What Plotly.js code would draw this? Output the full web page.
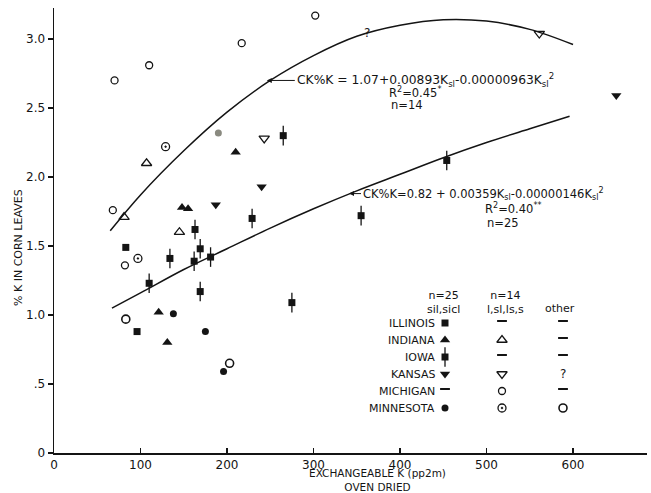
<!DOCTYPE html>
<html>
<head>
<meta charset="utf-8">
<script src="https://cdn.plot.ly/plotly-3.0.1.min.js"></script>
<style>html,body{margin:0;padding:0;background:#fff;}#chart{width:651px;height:493px;}</style>
</head>
<body>
<div id="chart"></div>
<script>
// ---- data (exchangeable K, % K in corn leaves) ----
const illinoisX = [83, 96];
const illinoisY = [1.49, 0.88];
const indianaX = [210, 148, 155, 121, 131];
const indianaY = [2.18, 1.78, 1.77, 1.02, 0.80];
const indianaLightX = [107, 81, 145];
const indianaLightY = [2.10, 1.71, 1.60];
const iowaX = [265, 229, 163, 134, 169, 162, 181, 110, 169, 275, 454, 355];
const iowaY = [2.30, 1.70, 1.62, 1.41, 1.48, 1.39, 1.42, 1.23, 1.17, 1.09, 2.12, 1.72];
const kansasX = [240, 187, 650];
const kansasY = [1.93, 1.80, 2.59];
const kansasLightX = [243, 561];
const kansasLightY = [2.28, 3.04];
const kansasOtherX = [362];
const kansasOtherY = [3.04];
const michiganLightX = [70, 110, 217, 302, 68, 82];
const michiganLightY = [2.70, 2.81, 2.97, 3.17, 1.76, 1.36];
const minnesotaX = [138, 175, 196];
const minnesotaY = [1.01, 0.88, 0.59];
const minnesotaLightX = [129, 97];
const minnesotaLightY = [2.22, 1.41];
const minnesotaGrayX = [190];
const minnesotaGrayY = [2.32];
const minnesotaOtherX = [83, 203];
const minnesotaOtherY = [0.97, 0.65];

// fitted curves
const upperCurveX = [65, 100, 150, 200, 250, 300, 350, 400, 450, 500, 550, 600];
const upperCurveY = [1.61, 1.87, 2.19, 2.47, 2.70, 2.88, 3.02, 3.10, 3.14, 3.13, 3.07, 2.96];
const lowerCurveX = [67, 100, 150, 200, 250, 300, 350, 400, 450, 500, 550, 596];
const lowerCurveY = [1.05, 1.16, 1.33, 1.48, 1.63, 1.77, 1.90, 2.02, 2.14, 2.25, 2.35, 2.44];

const xTickVals = [0, 100, 200, 300, 400, 500, 600];
const xTickText = ['0', '100', '200', '300', '400', '500', '600'];
const yTickVals = [0, 0.5, 1.0, 1.5, 2.0, 2.5, 3.0];
const yTickText = ['0', '.5', '1.0', '1.5', '2.0', '2.5', '3.0'];

const legendRows = ['ILLINOIS', 'INDIANA', 'IOWA', 'KANSAS', 'MICHIGAN', 'MINNESOTA'];
const legendHeaders = ['n=25<br>sil,sicl', 'n=14<br>l,sl,ls,s', 'other'];
const legendCells = [
  ['sq', 'dash', 'dash'],
  ['tri', 'triO', 'dash'],
  ['iowa', 'dash', 'dash'],
  ['tridn', 'tridnO', '?'],
  ['dash', 'circO', 'dash'],
  ['circ', 'circDot', 'circBig']
];

// ---- styles ----
const INK = '#141414';
const FONT = 'DejaVu Sans';
const S = {
  sq:      {symbol: 'square', size: 7, color: INK},
  tri:     {symbol: 'triangle-up', size: 9, color: INK},
  triO:    {symbol: 'triangle-up-open', size: 9, color: INK, line: {width: 1.3, color: INK}},
  tridn:   {symbol: 'triangle-down', size: 9, color: INK},
  tridnO:  {symbol: 'triangle-down-open', size: 9, color: INK, line: {width: 1.3, color: INK}},
  circ:    {symbol: 'circle', size: 7, color: INK},
  circO:   {symbol: 'circle-open', size: 7, color: INK, line: {width: 1.3, color: INK}},
  circBig: {symbol: 'circle-open', size: 8, color: INK, line: {width: 1.6, color: INK}},
  circDot: {symbol: 'circle-open-dot', size: 8, color: INK, line: {width: 1.3, color: INK}},
  gray:    {symbol: 'circle', size: 7, color: '#8a8a80'},
  iowa:    {symbol: 'square', size: 7, color: INK},
  iowaBar: {symbol: 'line-ns-open', size: 14, color: INK, line: {width: 1.3, color: INK}},
  dash:    {symbol: 'line-ew-open', size: 7, color: INK, line: {width: 2, color: INK}}
};

function pts(x, y, key, extra) {
  return Object.assign({x: x, y: y, type: 'scatter', mode: 'markers', marker: S[key],
    hoverinfo: 'skip', showlegend: false, cliponaxis: false}, extra || {});
}

const traces = [
  {x: upperCurveX, y: upperCurveY, type: 'scatter', mode: 'lines', line: {color: INK, width: 1.5, shape: 'spline'}, showlegend: false, hoverinfo: 'skip'},
  {x: lowerCurveX, y: lowerCurveY, type: 'scatter', mode: 'lines', line: {color: INK, width: 1.5, shape: 'spline'}, showlegend: false, hoverinfo: 'skip'},
  pts(illinoisX, illinoisY, 'sq'),
  pts(indianaX, indianaY, 'tri'),
  pts(indianaLightX, indianaLightY, 'triO'),
  pts(iowaX, iowaY, 'iowaBar'),
  pts(iowaX, iowaY, 'iowa'),
  pts(kansasX, kansasY, 'tridn'),
  pts(kansasLightX, kansasLightY, 'tridnO'),
  {x: kansasOtherX, y: kansasOtherY, type: 'scatter', mode: 'text', text: kansasOtherX.map(() => '?'),
   textposition: 'middle center', textfont: {family: FONT, size: 12, color: INK}, showlegend: false, hoverinfo: 'skip'},
  pts(michiganLightX, michiganLightY, 'circO'),
  pts(minnesotaX, minnesotaY, 'circ'),
  pts(minnesotaLightX, minnesotaLightY, 'circDot'),
  pts(minnesotaGrayX, minnesotaGrayY, 'gray'),
  pts(minnesotaOtherX, minnesotaOtherY, 'circBig')
];

// ---- legend table (pixel coordinates through overlay axes x2/y2) ----
const colX = [445, 502, 563];
const rowY0 = 323, rowStep = 17;
const annotations = [];
const headerX = [443, 505, 560];
legendHeaders.forEach((h, i) => {
  annotations.push({xref: 'x2', yref: 'y2', x: headerX[i], y: i < 2 ? 302 : 308, text: h, showarrow: false,
    font: {family: FONT, size: 11, color: INK}, xanchor: 'center', yanchor: 'middle'});
});
legendRows.forEach((name, r) => {
  const y = rowY0 + r * rowStep;
  annotations.push({xref: 'x2', yref: 'y2', x: 437, y: y, text: name, showarrow: false,
    font: {family: FONT, size: 11, color: INK}, xanchor: 'right', yanchor: 'middle'});
  legendCells[r].forEach((c, ci) => {
    if (c === '?') {
      annotations.push({xref: 'x2', yref: 'y2', x: colX[ci], y: y, text: '?', showarrow: false,
        font: {family: FONT, size: 12, color: INK}, xanchor: 'center', yanchor: 'middle'});
    } else {
      const yy = c === 'dash' ? y - 2 : y;
      if (c === 'iowa') traces.push(Object.assign(pts([colX[ci]], [yy], 'iowaBar'), {xaxis: 'x2', yaxis: 'y2'}));
      traces.push(Object.assign(pts([colX[ci]], [yy], c), {xaxis: 'x2', yaxis: 'y2'}));
    }
  });
});

// regression equations
annotations.push({x: 246, y: 2.70, xref: 'x', yref: 'y', showarrow: true, ax: 28, ay: 0, xanchor: 'left',
  arrowhead: 2, arrowsize: 1, arrowwidth: 1, arrowcolor: INK,
  text: 'CK%K = 1.07+0.00893K<sub>sl</sub>-0.00000963K<sub>sl</sub><sup>2</sup>',
  font: {family: FONT, size: 12.3, color: INK}});
annotations.push({xref: 'x2', yref: 'y2', x: 415, y: 92, text: 'R<sup>2</sup>=0.45<sup>*</sup>', showarrow: false,
  font: {family: FONT, size: 11.5, color: INK}});
annotations.push({xref: 'x2', yref: 'y2', x: 407, y: 105, text: 'n=14', showarrow: false,
  font: {family: FONT, size: 11.5, color: INK}});
annotations.push({x: 341, y: 1.88, xref: 'x', yref: 'y', showarrow: true, ax: 12, ay: 0, xanchor: 'left',
  arrowhead: 2, arrowsize: 1, arrowwidth: 1, arrowcolor: INK,
  text: 'CK%K=0.82 + 0.00359K<sub>sl</sub>-0.00000146K<sub>sl</sub><sup>2</sup>',
  font: {family: FONT, size: 11.5, color: INK}});
annotations.push({xref: 'x2', yref: 'y2', x: 513, y: 208, text: 'R<sup>2</sup>=0.40<sup>**</sup>', showarrow: false,
  font: {family: FONT, size: 11.5, color: INK}});
annotations.push({xref: 'x2', yref: 'y2', x: 503, y: 223, text: 'n=25', showarrow: false,
  font: {family: FONT, size: 11.5, color: INK}});

// axis titles placed as in the reference
annotations.push({xref: 'x2', yref: 'paper', x: 377, y: 0, yshift: -27, text: 'EXCHANGEABLE K (pp2m)<br>OVEN DRIED', showarrow: false,
  font: {family: FONT, size: 10.5, color: INK}, align: 'center', yanchor: 'middle'});
annotations.push({xref: 'paper', yref: 'y2', x: 0, xshift: -36, y: 248, text: '% K IN CORN LEAVES', showarrow: false,
  textangle: -90, font: {family: FONT, size: 11, color: INK}, xanchor: 'center', yanchor: 'middle'});

const layout = {
  width: 651, height: 493,
  margin: {l: 54, r: 4, t: 8, b: 40, pad: 0},
  paper_bgcolor: '#fff', plot_bgcolor: '#fff',
  font: {family: FONT, color: INK},
  showlegend: false,
  xaxis: {range: [0, 685.5], showgrid: false, zeroline: false, showline: true, linecolor: INK, linewidth: 1.5,
    ticks: 'inside', ticklen: 5, tickwidth: 1.3, tickcolor: INK, tickvals: xTickVals, ticktext: xTickText,
    tickfont: {family: FONT, size: 12, color: INK}, fixedrange: true, title: {text: ''}},
  yaxis: {range: [0, 3.225], showgrid: false, zeroline: false, showline: true, linecolor: INK, linewidth: 1.5,
    ticks: 'outside', ticklen: 5, tickwidth: 1.3, tickcolor: INK, tickvals: yTickVals, ticktext: yTickText,
    tickfont: {family: FONT, size: 12, color: INK}, fixedrange: true, title: {text: ''}},
  xaxis2: {overlaying: 'x', range: [54, 647], visible: false, fixedrange: true},
  yaxis2: {overlaying: 'y', range: [453, 8], visible: false, fixedrange: true},
  annotations: annotations
};

Plotly.newPlot('chart', traces, layout, {staticPlot: true, displayModeBar: false});
</script>
</body>
</html>
